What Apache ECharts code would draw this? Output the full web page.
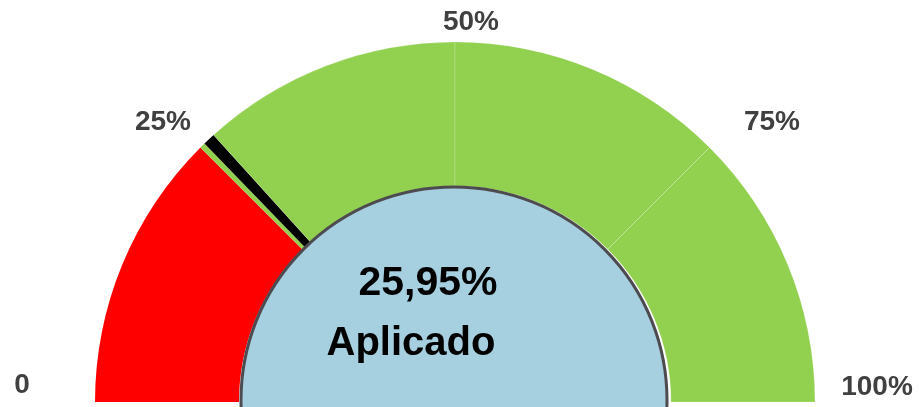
<!DOCTYPE html>
<html>
<head>
<meta charset="utf-8">
<script src="https://cdn.jsdelivr.net/npm/echarts@6/dist/echarts.min.js"></script>
<style>
html, body { margin: 0; padding: 0; background: #fff; }
#gauge { width: 919px; height: 407px; }
</style>
</head>
<body>
<div id="gauge"></div>
<script>
// 数据
var segNames = ['Rojo', 'Verde', 'Aguja', 'Verde 2', 'Verde 3', 'Verde 4', 'Oculto'];
var segValues = [25, 0.5, 1.1, 23.4, 25, 25, 100];
var segColors = ['#ff0000', '#92d050', '#000000', '#92d050', '#92d050', '#92d050', 'transparent'];
var tickLabels = ['0', '25%', '50%', '75%', '100%'];
var valueText = '25,95%';
var valueName = 'Aplicado';

var gauge = echarts.init(document.getElementById('gauge'));

var ring = segValues.map(function (v, i) {
    var hidden = i === segValues.length - 1;
    return {
        name: segNames[i],
        value: v,
        itemStyle: {
            color: segColors[i],
            borderWidth: (i >= 3 && !hidden) ? 1 : 0,
            borderColor: 'rgba(255,255,255,0.2)'
        }
    };
});

var tickPos = [[22, 385], [163, 122], [471, 22], [772, 122], [877, 387]];
var ticks = tickLabels.map(function (t, i) {
    return {
        type: 'text',
        z: 100,
        x: tickPos[i][0],
        y: tickPos[i][1],
        style: {
            text: t,
            fill: '#404040',
            font: 'bold 28px "Liberation Sans", Arial, sans-serif',
            align: 'center',
            verticalAlign: 'middle'
        }
    };
});

gauge.setOption({
    animation: false,
    series: [
        {
            type: 'pie',
            center: [455, 402],
            radius: [216, 360],
            startAngle: 180,
            clockwise: true,
            silent: true,
            label: { show: false },
            labelLine: { show: false },
            data: ring
        },
        {
            type: 'pie',
            center: [454, 400],
            radius: [0, 213],
            silent: true,
            label: { show: false },
            data: [
                {
                    value: 1,
                    itemStyle: { color: '#a6cfdf', borderColor: '#4d4b50', borderWidth: 3 }
                }
            ]
        }
    ],
    graphic: ticks.concat([
        {
            type: 'text',
            z: 100,
            x: 428,
            y: 284,
            style: {
                text: valueText,
                fill: '#000',
                font: 'bold 41px "Liberation Sans", Arial, sans-serif',
                align: 'center',
                verticalAlign: 'middle'
            }
        },
        {
            type: 'text',
            z: 100,
            x: 411,
            y: 344,
            style: {
                text: valueName,
                fill: '#000',
                font: 'bold 40px "Liberation Sans", Arial, sans-serif',
                align: 'center',
                verticalAlign: 'middle'
            }
        }
    ])
});
</script>
</body>
</html>
